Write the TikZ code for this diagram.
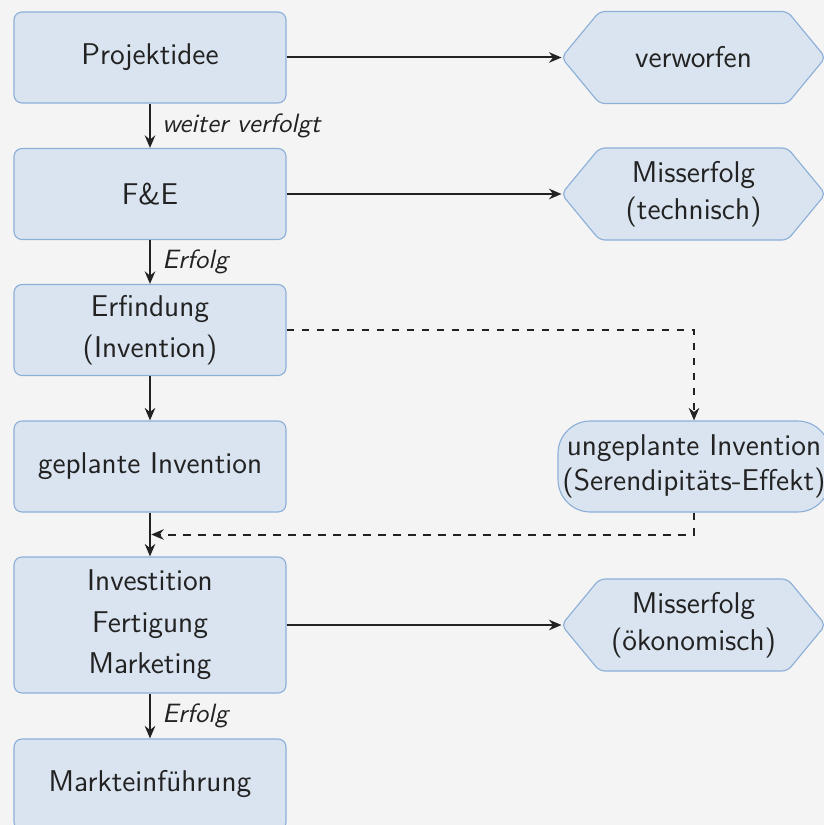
\documentclass[tikz,border=0pt]{standalone}
\usepackage{fontspec}
\usetikzlibrary{arrows.meta,calc}
\definecolor{pagebg}{HTML}{F4F4F4}
\definecolor{boxfill}{HTML}{DAE4F0}
\definecolor{boxline}{HTML}{8CAFD8}
\definecolor{ink}{HTML}{222222}
\pgfdeclarelayer{canvas}
\pgfdeclarelayer{shapes}
\pgfsetlayers{canvas,shapes,main}
\tikzset{
  stage/.style={draw=boxline, fill=boxfill, line width=0.45pt, rounded corners=3.2pt,
    minimum width=108.8pt, minimum height=36.4pt, inner sep=0pt, align=center,
    text=ink, font=\sffamily\fontsize{12}{16.6}\selectfont},
  serendip/.style={stage, rounded corners=13pt, font=\sffamily\fontsize{12}{14.2}\selectfont},
  outcome/.style={minimum width=105.2pt, minimum height=36.4pt, inner sep=0pt,
    align=center, text=ink, font=\sffamily\fontsize{12}{14.6}\selectfont},
  hexoutline/.style={draw=boxline, fill=boxfill, line width=0.45pt, rounded corners=2.2pt},
  flow/.style={draw=ink, line width=0.8pt, -{Stealth[length=5pt,width=4.2pt]}},
  sideflow/.style={flow, dashed},
  lbl/.style={font=\sffamily\itshape\fontsize{10.6}{12.5}\selectfont, text=ink,
    anchor=west, inner sep=4.5pt}
}
\begin{document}
\begin{tikzpicture}[x=0.4pt,y=-0.4pt]
  \clip (0,0) rectangle (824,825);
  \begin{pgfonlayer}{canvas}
    \fill[pagebg] (0,0) rectangle (824,825);
  \end{pgfonlayer}

  % main chain
  \node[stage] (idee) at (150,57.5) {Projektidee};
  \node[stage] (fe) at (150,194) {F\&E};
  \node[stage] (erf) at (150,330) {Erfindung\\(Invention)};
  \node[stage] (gepl) at (150,466.5) {geplante Invention};
  \node[stage, minimum height=54.4pt] (inv) at (150,625) {Investition\\Fertigung\\Marketing};
  \node[stage] (markt) at (150,784.5) {Markteinführung};

  % side outcomes
  \node[outcome] (verw) at (693.5,57.5) {verworfen};
  \node[outcome] (mtech) at (693.5,194) {Misserfolg\\(technisch)};
  \node[outcome] (moek) at (693.5,625) {Misserfolg\\(ökonomisch)};
  \node[serendip] (ungepl) at (694,466.5) {ungeplante Invention\\(Serendipitäts-Effekt)};

  % hexagonal outlines behind the outcome texts
  \begin{pgfonlayer}{shapes}
    \foreach \n in {verw,mtech,moek}
      \draw[hexoutline] (\n.west) -- ([xshift=15.2pt]\n.north west)
        -- ([xshift=-15.2pt]\n.north east) -- (\n.east)
        -- ([xshift=-15.2pt]\n.south east) -- ([xshift=15.2pt]\n.south west) -- cycle;
  \end{pgfonlayer}

  % connectors
  \draw[flow] (idee) -- node[lbl] {weiter verfolgt} (fe);
  \draw[flow] (fe) -- node[lbl] {Erfolg} (erf);
  \draw[flow] (erf) -- (gepl);
  \draw[flow] (gepl) -- (inv);
  \draw[flow] (inv) -- node[lbl] {Erfolg} (markt);

  \draw[flow] (idee) -- (verw);
  \draw[flow] (fe) -- (mtech);
  \draw[flow] (inv) -- (moek);

  \coordinate (merge) at ($(gepl.south)!0.5!(inv.north)$);
  \draw[sideflow] (erf.east) -| (ungepl.north);
  \draw[sideflow] (ungepl.south) |- ([xshift=0.5pt]merge);
\end{tikzpicture}
\end{document}
